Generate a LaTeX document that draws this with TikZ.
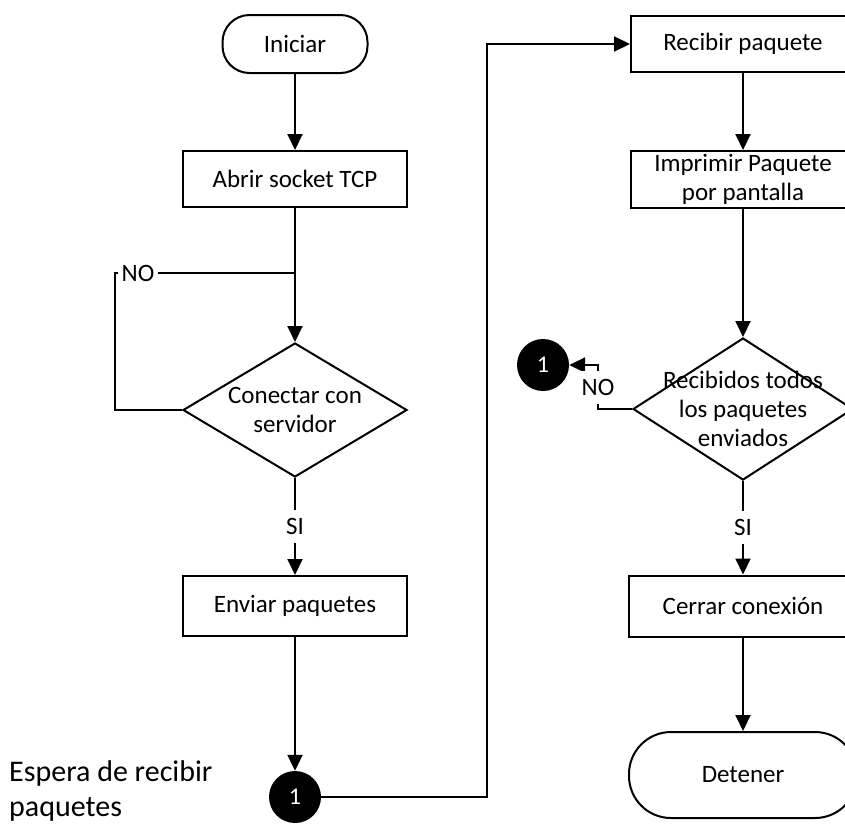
\documentclass[tikz,border=0pt]{standalone}
\usepackage{fontspec}
\setmainfont{Carlito}
\usetikzlibrary{arrows.meta,shapes.geometric}

\begin{document}
\begin{tikzpicture}[x=1pt, y=-1pt,
  every node/.style={font=\fontsize{25}{29}\selectfont},
  line/.style={line width=2pt, draw=black},
  arr/.style={line, -{Triangle[length=16pt,width=15pt]}},
  procbox/.style={draw=black, line width=2pt, fill=white, rectangle,
    minimum width=224pt, inner sep=0pt, align=center},
  term/.style={draw=black, line width=2pt, fill=white, rectangle, inner sep=0pt},
  decision/.style={draw=black, line width=2pt, fill=white, diamond, inner sep=0pt},
  dtext/.style={align=center, inner sep=0pt},
  conn/.style={circle, fill=black, minimum size=52pt, inner sep=0pt, text=white,
    font=\fontsize{24}{28}\selectfont},
  lab/.style={fill=white, inner xsep=4pt, inner ysep=0pt, minimum height=33pt},
  note/.style={anchor=west, align=left, inner sep=0pt, font=\fontsize{30}{35}\selectfont}
]
\useasboundingbox (0,0) rectangle (845,823);
\clip (0,0) rectangle (845,823);

% left column: client side
\node[term, minimum width=145pt, minimum height=58pt, rounded corners=27pt] (start) at (295,44) {Iniciar};
\node[procbox, minimum height=56pt] (open) at (295,179) {Abrir socket TCP};
\node[decision, minimum width=224pt, minimum height=134pt,
  label={[dtext]center:Conectar con\\servidor}] (d1) at (295,410) {};
\node[procbox, minimum height=60pt] (send) at (295,606) {Enviar paquetes};
\node[conn] (c1) at (295,797) {1};
\node[note] (note) at (9,791) {Espera de recibir\\paquetes};

% right column: receiving side
\node[procbox, minimum height=56pt] (recv) at (743,44) {Recibir paquete};
\node[procbox, minimum height=57pt] (print) at (743,179.5) {Imprimir Paquete\\por pantalla};
\node[decision, minimum width=220pt, minimum height=142pt,
  label={[dtext]center:Recibidos todos\\los paquetes\\enviados}] (d2) at (743,409) {};
\node[procbox, minimum width=228pt, minimum height=61pt] (close) at (743,606) {Cerrar conexión};
\node[term, minimum width=228pt, minimum height=86pt, rounded corners=42pt] (stop) at (743,775) {Detener};
\node[conn] (c2) at (543,365) {1};

% helper points for bent connectors
\coordinate (j1) at (295,273);
\coordinate (l1) at (115,273);
\coordinate (r1) at (487,44);
\coordinate (n2) at (598,365);

% connectors, left column
\draw[arr] (start) -- (open);
\draw[arr] (open) -- (d1);
\draw[line] (d1.west) -| (l1) -- node[lab, pos=0.128] {NO} (j1);
\draw[arr] (d1) -- node[lab] {SI} (send);
\draw[arr] (send) -- (c1);
\draw[arr] (c1) -| (r1) -- (recv);

% connectors, right column
\draw[arr] (recv) -- (print);
\draw[arr] (print) -- (d2);
\draw[arr] (d2.west) -| node[lab, pos=0.75] {NO} (n2) -- (c2);
\draw[arr] (d2) -- node[lab] {SI} (close);
\draw[arr] (close) -- (stop);
\end{tikzpicture}
\end{document}
